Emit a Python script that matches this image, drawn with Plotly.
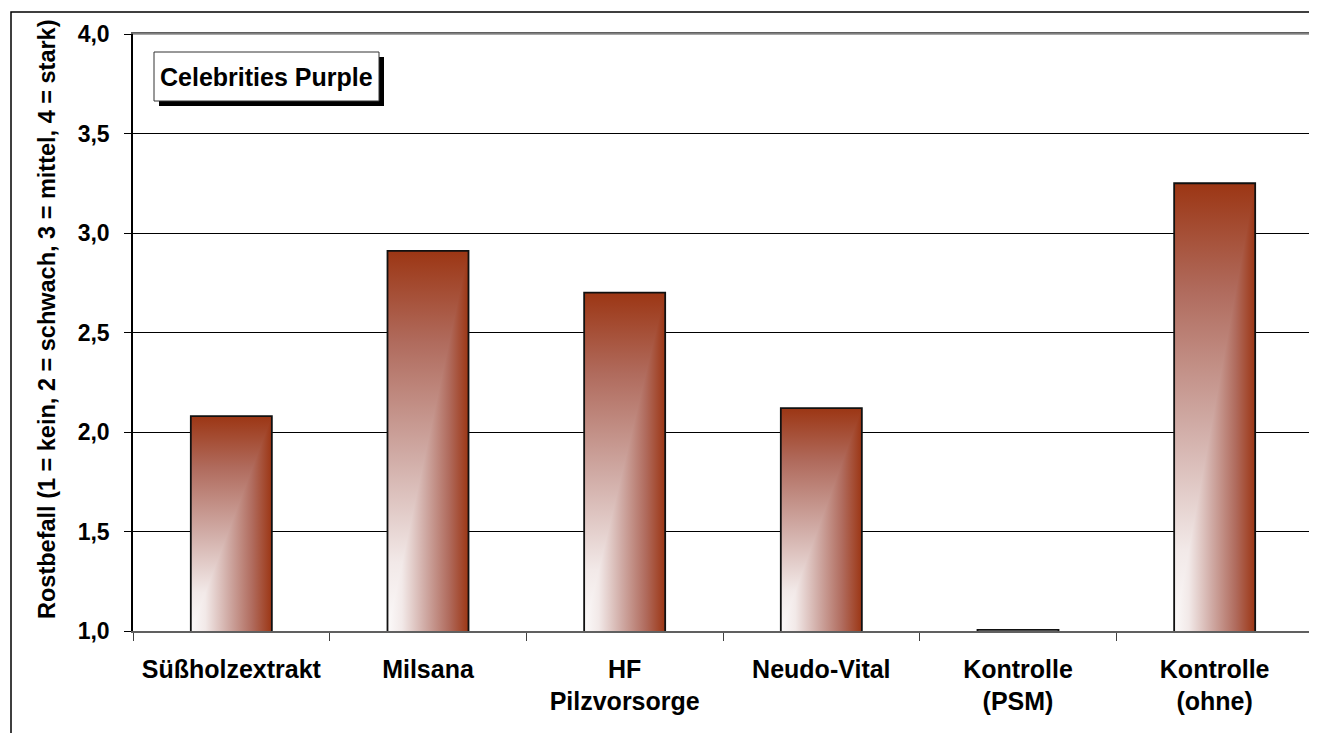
import plotly.graph_objects as go

# ---- data ----
categories = ["Süßholzextrakt", "Milsana", "HF<br>Pilzvorsorge", "Neudo-Vital",
              "Kontrolle<br>(PSM)", "Kontrolle<br>(ohne)"]
values = [2.08, 2.91, 2.70, 2.12, 1.006, 3.25]
y_ticks = [1.0, 1.5, 2.0, 2.5, 3.0, 3.5, 4.0]
legend_label = "Celebrities Purple"
y_title = "Rostbefall (1 = kein, 2 = schwach, 3 = mittel, 4 = stark)"

# ---- style ----
OFF = 8                      # page body margin
W, H = 1317 - OFF, 733 - OFF
# plot area in screen pixels: x 133..1313, y 34..631
ML, MT = 133 - OFF, 34 - OFF
MR = W - (1313 - OFF)
MB = H - (631 - OFF)
PW, PH = W - ML - MR, H - MT - MB
DARK = "#9c3614"
BAR_W = 0.412
BASE = 1.0
FONT = "Liberation Sans, Arial, sans-serif"
GRAD = [[0, "#fcfafa"], [0.18, "#f2e9e8"], [0.47, "#cfa9a3"],
        [0.76, "#b06b5d"], [1, DARK]]


def px2x(px):
    """screen px -> paper x"""
    return (px - OFF - ML) / PW


def px2y(py):
    """screen px -> paper y"""
    return (H - MB - (py - OFF)) / PH


fig = go.Figure()

for i, v in enumerate(values):
    xl, xr = i - BAR_W / 2, i + BAR_W / 2
    if v - BASE < 0.02:
        continue
    fig.add_trace(go.Scatter(
        x=[xl, xl, xr, xr, xl], y=[BASE, v, v, BASE, BASE],
        mode="lines", fill="toself", line=dict(width=0),
        fillgradient=dict(type="vertical", colorscale=GRAD),
        hoverinfo="skip", showlegend=False))
    fig.add_trace(go.Scatter(
        x=[xl, xr, xr, xl], y=[BASE, v, BASE, BASE],
        mode="lines", fill="toself", line=dict(width=0),
        fillgradient=dict(type="horizontal", colorscale=GRAD),
        hoverinfo="skip", showlegend=False))

for i, v in enumerate(values):
    xl, xr = i - BAR_W / 2, i + BAR_W / 2
    fig.add_trace(go.Scatter(
        x=[xl, xl, xr, xr], y=[BASE, v, v, BASE],
        mode="lines", line=dict(color="#111111", width=1.8),
        hoverinfo="skip", showlegend=False, cliponaxis=False))

fig.update_layout(
    width=W, height=H,
    margin=dict(l=ML, r=MR, t=MT, b=MB, autoexpand=False),
    paper_bgcolor="white", plot_bgcolor="white",
    separators=",.",
    font=dict(family=FONT, color="black"),
    showlegend=False,
)

fig.update_xaxes(
    range=[-0.5, len(categories) - 0.5], automargin=False,
    tickmode="array", tickvals=list(range(len(categories))), ticktext=categories,
    ticks="", showgrid=False, zeroline=False,
    showline=True, linecolor="#606060", linewidth=1.5, mirror=True,
    tickfont=dict(family=FONT, size=25, color="black", weight="bold"),
    minor=dict(tickmode="linear", tick0=-0.5, dtick=1, ticks="outside",
               ticklen=8, tickcolor="#404040", tickwidth=1.2, showgrid=False),
    ticklabelstandoff=15,
)

fig.update_yaxes(
    range=[1.0, 4.0], automargin=False, tickmode="array", tickvals=y_ticks,
    tickformat=".1f",
    ticks="outside", ticklen=7, tickcolor="black", tickwidth=1,
    showgrid=True, gridcolor="black", gridwidth=1,
    zeroline=False, showline=True, linecolor="black", linewidth=1.5,
    tickfont=dict(family=FONT, size=23, color="black", weight="bold"),
    ticklabelstandoff=10,
)

shapes = []
shapes.append(dict(type="rect", xref="paper", yref="paper",
                   x0=px2x(11), x1=px2x(1330), y0=px2y(745), y1=px2y(12),
                   line=dict(color="black", width=1.5), fillcolor="rgba(0,0,0,0)",
                   layer="below"))
shapes.append(dict(type="line", xref="paper", yref="paper", x0=0, x1=1, y0=1, y1=1,
                   line=dict(color="#8a8a8a", width=1.5)))
shapes.append(dict(type="line", xref="paper", yref="paper", x0=1, x1=1, y0=0, y1=1,
                   line=dict(color="#8a8a8a", width=1.5)))
bx0, bx1, by0, by1 = 154, 379, 52, 101
shapes.append(dict(type="rect", xref="paper", yref="paper",
                   x0=px2x(bx0 + 5), x1=px2x(bx1 + 5), y0=px2y(by1 + 5), y1=px2y(by0 + 5),
                   line=dict(width=0), fillcolor="black"))
shapes.append(dict(type="rect", xref="paper", yref="paper",
                   x0=px2x(bx0), x1=px2x(bx1), y0=px2y(by1), y1=px2y(by0),
                   line=dict(color="#333333", width=1), fillcolor="white"))
fig.update_layout(shapes=shapes)

fig.add_annotation(xref="paper", yref="paper",
                   x=px2x((bx0 + bx1) / 2), y=px2y((by0 + by1) / 2),
                   text=legend_label, showarrow=False, xanchor="center", yanchor="middle",
                   font=dict(family=FONT, size=25, color="black", weight="bold"))
fig.add_annotation(xref="paper", yref="paper",
                   x=px2x(47), y=px2y(319),
                   text=y_title, showarrow=False, textangle=-90,
                   xanchor="center", yanchor="middle",
                   font=dict(family=FONT, size=23.5, color="black", weight="bold"))

fig.write_html("out.html")
